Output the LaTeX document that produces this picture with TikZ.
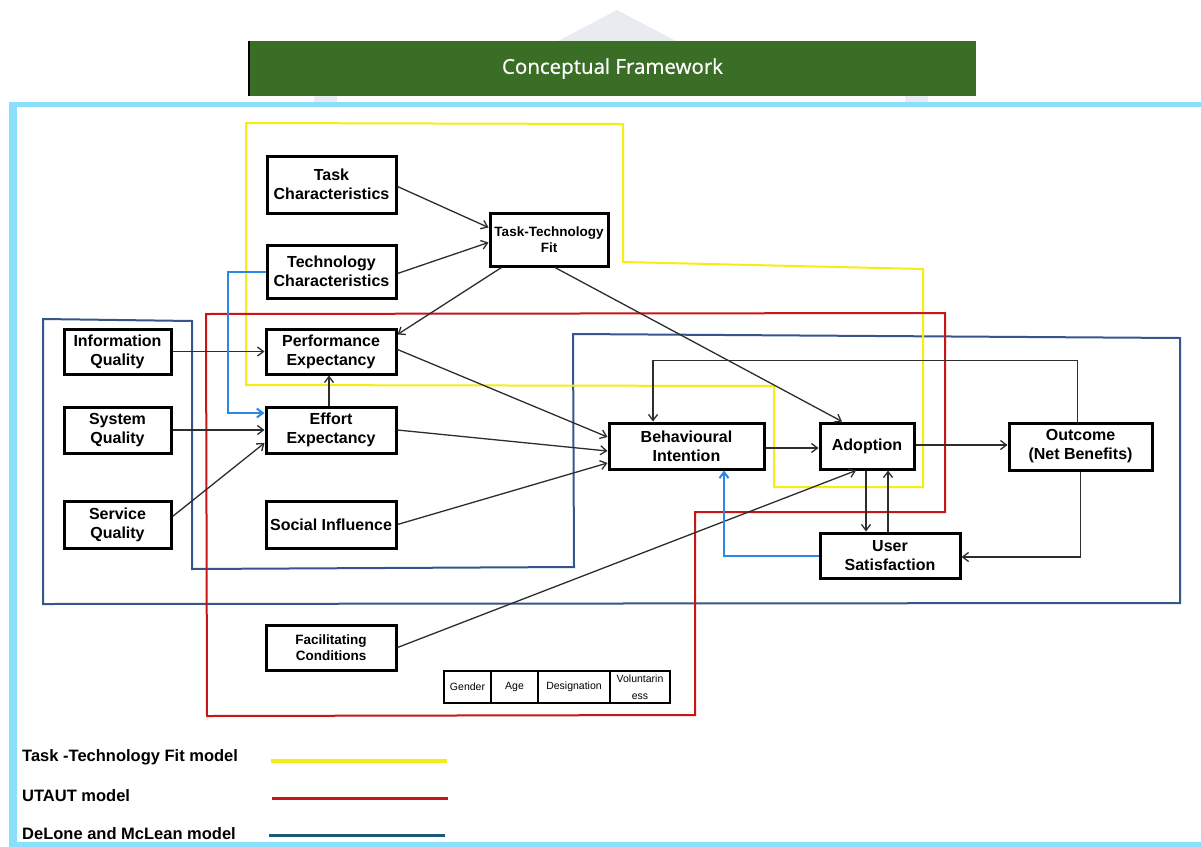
\documentclass[tikz,border=0pt]{standalone}
\usepackage{fontspec}
\setmainfont{Liberation Sans}
\newfontfamily\titlefont[FakeBold=0.6]{Open Sans}
\usetikzlibrary{arrows.meta,calc}
\definecolor{framecol}{RGB}{138,223,252}
\definecolor{titlegreen}{RGB}{58,110,39}
\definecolor{ttfyellow}{RGB}{245,238,20}
\definecolor{utred}{RGB}{200,22,22}
\definecolor{dmblue}{RGB}{55,85,140}
\definecolor{dmteal}{RGB}{30,90,120}
\definecolor{linkblue}{RGB}{45,135,228}
\definecolor{wmark}{RGB}{232,236,240}
\definecolor{conn}{RGB}{45,45,45}
\tikzset{
  box/.style={draw=black, line width=3, fill=white, align=center, inner sep=0,
    font=\bfseries\fontsize{16}{19}\selectfont},
  smallbox/.style={box, font=\bfseries\fontsize{13.5}{16}\selectfont},
  cell/.style={draw=black, line width=1.2, fill=white, align=center, inner sep=0,
    minimum height=32, font=\fontsize{10.5}{17}\selectfont},
  arr/.style={draw=conn, line width=1.3, -{Straight Barb[length=6,width=9]}},
  barr/.style={draw=linkblue, line width=2, -{Straight Barb[length=6,width=9]}},
  outline/.style={line width=2, line join=miter},
  legtext/.style={anchor=west, inner sep=0, font=\bfseries\fontsize{16.5}{19}\selectfont},
}
\begin{document}
\begin{tikzpicture}[x=1pt,y=-1pt]
\useasboundingbox (0,0) rectangle (1201,846);
\fill[white] (0,0) rectangle (1201,846);
% watermark
\fill[wmark] (617,10) -- (676,41) -- (558,41) -- cycle;
\fill[wmark] (314,96) rectangle (337,102);
\fill[wmark] (905,96) rectangle (928,102);
% frame
\draw[framecol, line width=5.5] (9,104.5) -- (1201,104.5);
\draw[framecol, line width=8] (13,102) -- (13,846);
\draw[framecol, line width=5] (9,844.5) -- (1201,844.5);
% title
\node[fill=titlegreen, minimum width=726, minimum height=55, inner sep=0,
  text=white, font=\titlefont\fontsize{20.5}{24}\selectfont] (title) at (612.5,68.5) {Conceptual Framework};
\draw[black, line width=2] (title.north west) -- (title.south west);
% model outlines
\draw[outline, dmblue] (43,319) -- (192,321) -- (192,569) -- (574,567) -- (573,334) -- (1180,338) -- (1180,603) -- (43,604) -- cycle;
\draw[outline, ttfyellow] (246,123) -- (623,124) -- (623,262) -- (923,269) -- (923,487) -- (774,487) -- (774,386) -- (246,385) -- cycle;
\draw[outline, utred] (206,314) -- (945,313) -- (945,512) -- (695,512) -- (695,715) -- (207,716) -- cycle;
% boxes
\node[box, minimum width=129, minimum height=57] (tc) at (331.5,184.5) {Task\\Characteristics};
\node[box, minimum width=129, minimum height=53] (tech) at (331.5,271.5) {Technology\\Characteristics};
\node[smallbox, minimum width=118, minimum height=53] (ttf) at (549,239.5) {Task-Technology\\Fit};
\node[box, minimum width=107, minimum height=45] (iq) at (117.5,351.5) {Information\\Quality};
\node[box, minimum width=107, minimum height=46] (sq) at (117.5,430) {System\\Quality};
\node[box, minimum width=107, minimum height=47] (svq) at (117.5,524.5) {Service\\Quality};
\node[box, minimum width=130, minimum height=45] (pe) at (331,351.5) {Performance\\Expectancy};
\node[box, minimum width=130, minimum height=46] (ee) at (331,430) {Effort\\Expectancy};
\node[box, minimum width=130, minimum height=47] (si) at (331,524.5) {Social Influence};
\node[box, minimum width=155, minimum height=46] (bi) at (686.5,446) {Behavioural\\Intention};
\node[box, minimum width=94, minimum height=46] (ad) at (867,446) {Adoption};
\node[box, minimum width=143, minimum height=47] (out) at (1080.5,446.5) {Outcome\\(Net Benefits)};
\node[box, minimum width=140, minimum height=45] (us) at (890,555.5) {User\\Satisfaction};
\node[smallbox, minimum width=130, minimum height=45] (fc) at (331,647.5) {Facilitating\\Conditions};
% moderator table
\node[cell, minimum width=47] (gen) at (467.5,687) {Gender};
\node[cell, minimum width=47] (age) at (514.5,687) {Age};
\node[cell, minimum width=72] (des) at (574,687) {Designation};
\node[cell, minimum width=60] (vol) at (640,687) {Voluntarin\\ess};
% connectors
\draw[arr] ($(tc.east)+(0,2)$) -- ($(ttf.west)+(0,-12)$);
\draw[arr] ($(tech.east)+(0,2)$) -- ($(ttf.west)+(0,3)$);
\draw[arr] ($(ttf.south west)+(13,0)$) -- ($(pe.north east)+(0,7)$);
\draw[arr] ($(ttf.south)+(6,0)$) -- ($(ad.north)+(-25,0)$);
\draw[arr] (iq.east) -- (pe.west);
\draw[arr] (sq.east) -- (ee.west);
\draw[arr] ($(svq.east)+(0,-8)$) -- ($(ee.west)+(0,13)$);
\draw[arr] ($(ee.north)+(-2,0)$) -- ($(pe.south)+(-2,0)$);
\draw[arr] ($(pe.east)+(0,-2)$) -- ($(bi.west)+(0,-9)$);
\draw[arr] (ee.east) -- ($(bi.west)+(0,5)$);
\draw[arr] (si.east) -- ($(bi.west)+(0,17)$);
\draw[arr] ($(bi.east)+(0,2)$) -- ($(ad.west)+(0,2)$);
\draw[arr] ($(ad.east)+(0,-1)$) -- ($(out.west)+(0,-1.5)$);
\draw[arr] ($(out.north)+(-3,0)$) -- ++(0,-61) -| ($(bi.north)+(-33.5,0)$);
\draw[arr] ($(ad.south)+(-1,0)$) -- ($(us.north)+(-24,0)$);
\draw[arr] ($(us.north)+(-2,0)$) -- ($(ad.south)+(21,0)$);
\draw[arr] (out.south) |- ($(us.east)+(0,1.5)$);
\draw[arr] (fc.east) -- ($(ad.south)+(-11,0)$);
\draw[barr] (tech.west) -- ++(-38,0) |- ($(ee.west)+(0,-17)$);
\draw[barr] (us.west) -| ($(bi.south)+(37.5,0)$);
% legend
\node[legtext] (l1) at (22,757) {Task -Technology Fit model};
\node[legtext] (l2) at (22,796) {UTAUT model};
\node[legtext] (l3) at (22,834) {DeLone and McLean model};
\draw[ttfyellow, line width=3.5] (271,761) -- (447,761);
\draw[utred, line width=3] (272,798) -- (448,798);
\draw[dmteal, line width=3] (269,835) -- (445,835);
\end{tikzpicture}
\end{document}
